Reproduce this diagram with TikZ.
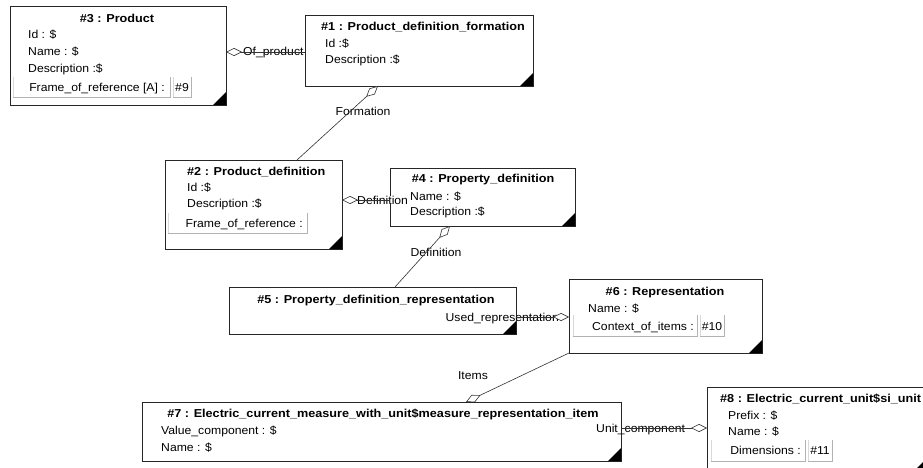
\documentclass[tikz,border=0pt]{standalone}
\usepackage{fontspec}
\setmainfont[FakeStretch=1.06, BoldFeatures={FakeStretch=1.1}]{Liberation Sans}
\usetikzlibrary{arrows.meta,calc}
\begin{document}
\begin{tikzpicture}[x=1pt,y=-1pt,
  box/.style={draw=black!85, line width=0.9pt, fill=white, inner sep=0pt, outer sep=0pt, anchor=north west},
  btn/.style={fill=white, inner sep=0pt, outer sep=0pt, anchor=north west},
  txt/.style={inner sep=0pt, anchor=base west, font=\fontsize{11.5}{13}\selectfont},
  ttl/.style={txt, font=\fontsize{11.5}{13}\selectfont\bfseries},
  conn/.style={draw=black!80, line width=0.6pt},
  agg/.style={conn, {Diamond[fill=white, length=16pt, width=8pt, line width=0.6pt]}-},
  corner/.style={fill=black},
  btnlight/.style={draw=gray!30},
  btndark/.style={draw=gray!60}
]
\useasboundingbox (0,0) rectangle (923,468);
\clip (0,0) rectangle (923,468);
\fill[white] (0,0) rectangle (923,468);

% ---------- #3 ----------
\node[box, minimum width=216pt, minimum height=99pt] (b3) at (10,6) {};
\fill[corner] ($(b3.south east)+(-13,0)$) -- (b3.south east) -- ($(b3.south east)+(0,-13)$) -- cycle;
\node[ttl, anchor=base] (b3t) at (117,23) {\#3 : Product};
\node[txt] (b3a) at (28,39) {Id : \$};
\node[txt] (b3b) at (28,56) {Name : \$};
\node[txt] (b3c) at (28,73) {Description :\$};
\node[btn, minimum width=157pt, minimum height=20pt] (b3f) at (13,77) {};
\draw[btnlight] (b3f.south west) -- (b3f.north west);
\draw[btndark] (b3f.south west) -- (b3f.south east) -- (b3f.north east);
\node[txt, anchor=base east] (b3ft) at (165,92) {Frame\_of\_reference [A] :};
\node[btn, minimum width=18pt, minimum height=20pt] (b3g) at (173,77) {};
\draw[btnlight] (b3g.south west) -- (b3g.north west);
\draw[btndark] (b3g.south west) -- (b3g.south east) -- (b3g.north east);
\node[txt, anchor=base] (b3gt) at (182,92) {\#9};

% ---------- #1 ----------
\node[box, minimum width=228pt, minimum height=71pt] (b1) at (305,15) {};
\fill[corner] ($(b1.south east)+(-13,0)$) -- (b1.south east) -- ($(b1.south east)+(0,-13)$) -- cycle;
\node[ttl] (b1t) at (321,31) {\#1 : Product\_definition\_formation};
\node[txt] (b1a) at (325,48) {Id :\$};
\node[txt] (b1b) at (325,64) {Description :\$};

% ---------- #2 ----------
\node[box, minimum width=177pt, minimum height=89pt] (b2) at (165,160) {};
\fill[corner] ($(b2.south east)+(-13,0)$) -- (b2.south east) -- ($(b2.south east)+(0,-13)$) -- cycle;
\node[ttl] (b2t) at (187,175) {\#2 : Product\_definition};
\node[txt] (b2a) at (187,191) {Id :\$};
\node[txt] (b2b) at (187,207) {Description :\$};
\node[btn, minimum width=139pt, minimum height=20pt] (b2f) at (168,213) {};
\draw[btnlight] (b2f.south west) -- (b2f.north west);
\draw[btndark] (b2f.south west) -- (b2f.south east) -- (b2f.north east);
\node[txt, anchor=base east] (b2ft) at (303,227) {Frame\_of\_reference :};

% ---------- #4 ----------
\node[box, minimum width=185pt, minimum height=58pt] (b4) at (390,168) {};
\fill[corner] ($(b4.south east)+(-13,0)$) -- (b4.south east) -- ($(b4.south east)+(0,-13)$) -- cycle;
\node[ttl, anchor=base] (b4t) at (483,182) {\#4 : Property\_definition};
\node[txt] (b4a) at (410,200) {Name : \$};
\node[txt] (b4b) at (410,215) {Description :\$};

% ---------- #5 ----------
\node[box, minimum width=287pt, minimum height=47pt] (b5) at (229,287) {};
\fill[corner] ($(b5.south east)+(-13,0)$) -- (b5.south east) -- ($(b5.south east)+(0,-13)$) -- cycle;
\node[ttl, anchor=base] (b5t) at (376,303) {\#5 : Property\_definition\_representation};

% ---------- #6 ----------
\node[box, minimum width=193pt, minimum height=74pt] (b6) at (569,279) {};
\fill[corner] ($(b6.south east)+(-13,0)$) -- (b6.south east) -- ($(b6.south east)+(0,-13)$) -- cycle;
\node[ttl, anchor=base] (b6t) at (665,295) {\#6 : Representation};
\node[txt] (b6a) at (588,312) {Name : \$};
\node[btn, minimum width=124pt, minimum height=21pt] (b6c) at (573,315) {};
\draw[btnlight] (b6c.south west) -- (b6c.north west);
\draw[btndark] (b6c.south west) -- (b6c.south east) -- (b6c.north east);
\node[txt, anchor=base east] (b6ct) at (694,330) {Context\_of\_items :};
\node[btn, minimum width=24pt, minimum height=21pt] (b6d) at (700,315) {};
\draw[btnlight] (b6d.south west) -- (b6d.north west);
\draw[btndark] (b6d.south west) -- (b6d.south east) -- (b6d.north east);
\node[txt, anchor=base] (b6dt) at (712,330) {\#10};

% ---------- #7 ----------
\node[box, minimum width=479pt, minimum height=59pt] (b7) at (142,402) {};
\fill[corner] ($(b7.south east)+(-13,0)$) -- (b7.south east) -- ($(b7.south east)+(0,-13)$) -- cycle;
\node[ttl, anchor=base] (b7t) at (383,417) {\#7 : Electric\_current\_measure\_with\_unit\$measure\_representation\_item};
\node[txt] (b7a) at (161,434) {Value\_component : \$};
\node[txt] (b7b) at (161,451) {Name : \$};

% ---------- #8 ----------
\node[box, minimum width=219pt, minimum height=85pt] (b8) at (707,387) {};
\fill[corner] ($(b8.south east)+(-13,0)$) -- (b8.south east) -- ($(b8.south east)+(0,-13)$) -- cycle;
\node[ttl] (b8t) at (720,402) {\#8 : Electric\_current\_unit\$si\_unit};
\node[txt] (b8a) at (728,419) {Prefix : \$};
\node[txt] (b8b) at (728,435) {Name : \$};
\node[btn, minimum width=94pt, minimum height=21pt] (b8c) at (711,440) {};
\draw[btnlight] (b8c.south west) -- (b8c.north west);
\draw[btndark] (b8c.south west) -- (b8c.south east) -- (b8c.north east);
\node[txt, anchor=base east] (b8ct) at (801,454) {Dimensions :};
\node[btn, minimum width=24pt, minimum height=21pt] (b8d) at (808,440) {};
\draw[btnlight] (b8d.south west) -- (b8d.north west);
\draw[btndark] (b8d.south west) -- (b8d.south east) -- (b8d.north east);
\node[txt, anchor=base] (b8dt) at (820,454) {\#11};

% ---------- connector labels ----------
\node[txt] (lof) at (243,56) {Of\_product};
\node[txt, anchor=base] (lform) at (363,116) {Formation};
\begin{scope}
  \clip (355,188) rectangle (408,210);
  \node[txt, fill=white] (ldef1) at (357,204) {Definition};
\end{scope}
\node[txt, anchor=base] (ldef2) at (436,256) {Definition};
\node[txt, anchor=base east] (lused) at (559,321) {Used\_representation};
\node[txt, anchor=base] (litems) at (473,379) {Items};
\node[txt] (lunit) at (596,432) {Unit\_component};

% ---------- connectors ----------
\draw[agg] ($(b3.north east)+(0,46)$) -- ($(b1.north west)+(0,37)$);
\draw[agg] ($(b1.south west)+(73,0)$) -- ($(b2.north west)+(132,0)$);
\draw[agg] ($(b2.north east)+(0,40)$) -- ($(b4.north west)+(0,32)$);
\draw[agg] ($(b4.south west)+(60,0)$) -- ($(b5.north west)+(166,0)$);
\draw[agg] ($(b6.north west)+(0,38)$) -- ($(b5.north east)+(0,30)$);
\draw[agg] ($(b7.north west)+(324,0)$) -- (b6.south west);
\draw[agg] ($(b8.north west)+(0,41)$) -- ($(b7.north east)+(0,26)$);
\end{tikzpicture}
\end{document}
